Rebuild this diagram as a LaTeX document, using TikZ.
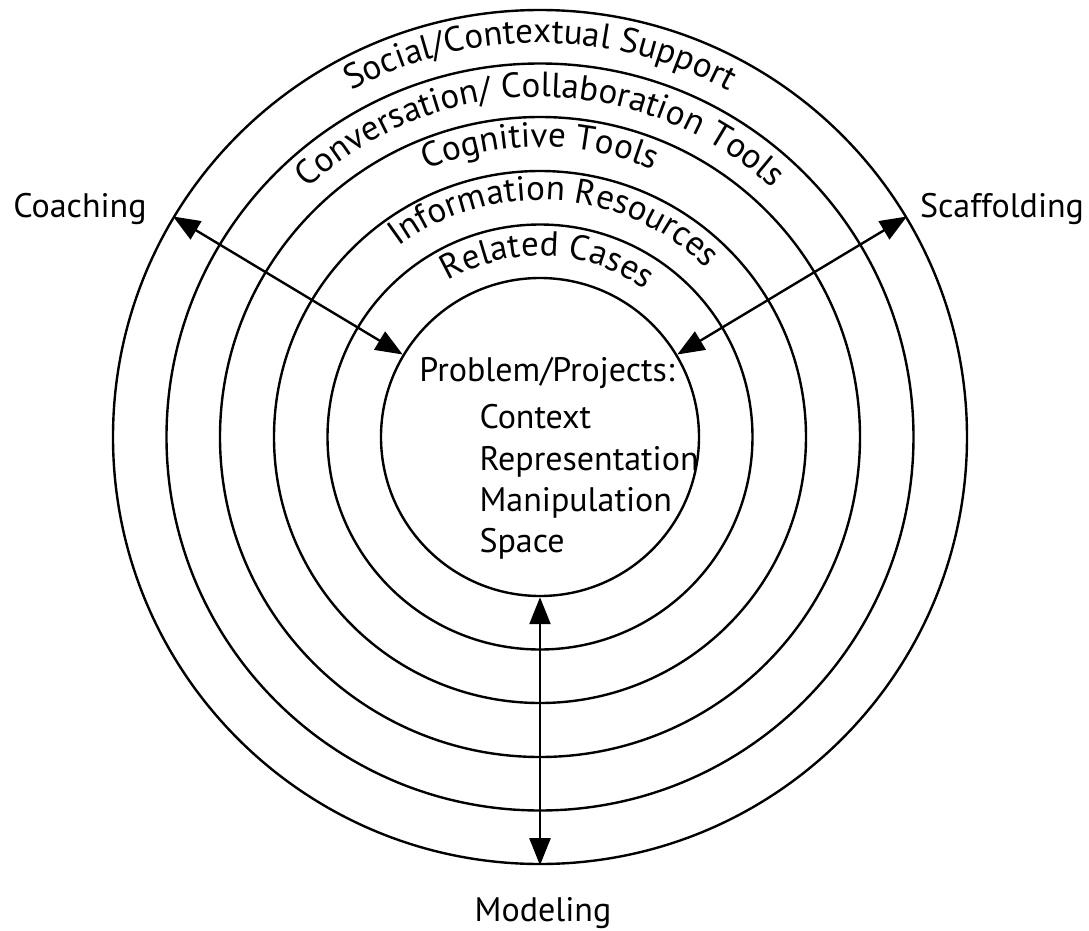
\documentclass[tikz,border=0pt]{standalone}
\usepackage{fontspec}
\setmainfont{PT Sans}
\usetikzlibrary{arrows.meta,decorations.text}

\begin{document}
\begin{tikzpicture}[
	x=1pt, y=1pt,
	every node/.style={font=\fontsize{34}{41}\selectfont},
	ring/.style={shape=circle, draw, line width=2.4pt, inner sep=0pt},
	link/.style={line width=2.4pt, {Triangle[length=27pt,width=21pt]}-{Triangle[length=27pt,width=21pt]}},
	arctext/.style={decorate, decoration={text along path, text align=center}},
]
\useasboundingbox (-540,-493) rectangle (549,437);

% rings, r0 is the core
\foreach \i/\d in {0/318, 1/425, 2/532, 3/640, 4/747, 5/854}
	\node[ring, minimum size=\d pt] (r\i) at (0,0) {};

% ring names
\path[arctext, decoration={text={|\fontsize{35}{40}\selectfont|Social/Contextual Support}}]
	(180:394) arc[start angle=180, end angle=0, radius=394];
\path[arctext, decoration={text={|\fontsize{35}{40}\selectfont|Conversation/ Collaboration Tools}}]
	(180:340) arc[start angle=180, end angle=0, radius=340];
\path[arctext, decoration={text={|\fontsize{35}{40}\selectfont|Cognitive Tools}}]
	(180:290) arc[start angle=180, end angle=0, radius=290];
\path[arctext, decoration={text={|\fontsize{35}{40}\selectfont|Information Resources}}]
	(176:237) arc[start angle=176, end angle=-4, radius=237];
\path[arctext, decoration={text={|\fontsize{35}{40}\selectfont|Related Cases}}]
	(177.5:181) arc[start angle=177.5, end angle=-2.5, radius=181];

% core text
\node[anchor=base] (prob) at (7,56) {Problem/Projects:};
\node[anchor=base west] (ctx) at (-64,9) {Context};
\node[anchor=base west] (rep) at (-64,-33) {Representation};
\node[anchor=base west] (man) at (-64,-74) {Manipulation};
\node[anchor=base west] (spc) at (-64,-115) {Space};

% support labels
\node[anchor=base] (coach) at (-460,220) {Coaching};
\node[anchor=base] (scaf) at (462,220) {Scaffolding};
\node[anchor=base] (model) at (3,-484) {Modeling};

\draw[link] (r0.149.5) -- (r5.149.5);
\draw[link] (r0.31.3) -- (r5.31.3);
\draw[link] (r0.270) -- (r5.270);
\end{tikzpicture}
\end{document}
